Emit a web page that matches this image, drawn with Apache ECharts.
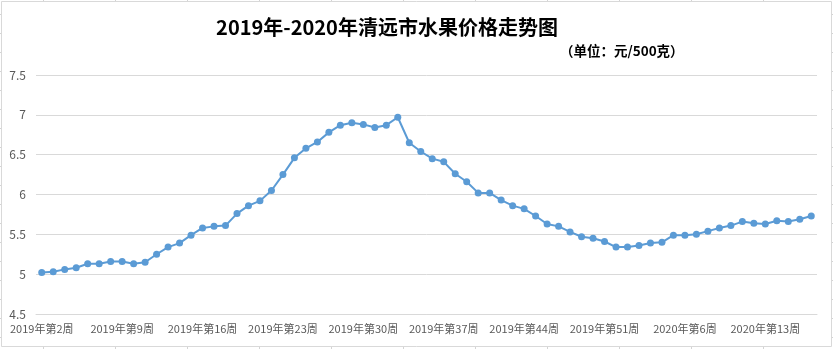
<!DOCTYPE html>
<html>
<head>
<meta charset="utf-8">
<script src="https://cdn.jsdelivr.net/npm/echarts@6/dist/echarts.min.js"></script>
<style>
  html, body { margin: 0; padding: 0; background: #ffffff; }
  #chart { width: 833px; height: 349px; }
</style>
</head>
<body>
<div id="chart"></div>
<script>
// Weekly fruit prices in Qingyuan, yuan per 500 g
const weeks = [
  '2019年第2周','2019年第3周','2019年第4周','2019年第5周','2019年第6周','2019年第7周','2019年第8周',
  '2019年第9周','2019年第10周','2019年第11周','2019年第12周','2019年第13周','2019年第14周','2019年第15周',
  '2019年第16周','2019年第17周','2019年第18周','2019年第19周','2019年第20周','2019年第21周','2019年第22周',
  '2019年第23周','2019年第24周','2019年第25周','2019年第26周','2019年第27周','2019年第28周','2019年第29周',
  '2019年第30周','2019年第31周','2019年第32周','2019年第33周','2019年第34周','2019年第35周','2019年第36周',
  '2019年第37周','2019年第38周','2019年第39周','2019年第40周','2019年第41周','2019年第42周','2019年第43周',
  '2019年第44周','2019年第45周','2019年第46周','2019年第47周','2019年第48周','2019年第49周','2019年第50周',
  '2019年第51周','2019年第52周','2020年第1周','2020年第2周','2020年第3周','2020年第4周','2020年第5周',
  '2020年第6周','2020年第7周','2020年第8周','2020年第9周','2020年第10周','2020年第11周','2020年第12周',
  '2020年第13周','2020年第14周','2020年第15周','2020年第16周','2020年第17周'
];
const prices = [
  5.02, 5.03, 5.06, 5.08, 5.13, 5.13, 5.16,
  5.16, 5.13, 5.15, 5.25, 5.34, 5.39, 5.49,
  5.58, 5.60, 5.61, 5.76, 5.86, 5.92, 6.05,
  6.25, 6.46, 6.58, 6.66, 6.78, 6.87, 6.90,
  6.88, 6.84, 6.87, 6.97, 6.65, 6.54, 6.45,
  6.41, 6.26, 6.16, 6.02, 6.02, 5.93, 5.86,
  5.82, 5.73, 5.63, 5.60, 5.53, 5.47, 5.45,
  5.41, 5.34, 5.34, 5.36, 5.39, 5.40, 5.49,
  5.49, 5.50, 5.54, 5.58, 5.61, 5.66, 5.64,
  5.63, 5.67, 5.66, 5.69, 5.73
];
const yTicks = { min: 4.5, max: 7.5, step: 0.5 };
const titleText = '2019年-2020年清远市水果价格走势图';
const unitText = '（单位：元/500克）';

const W = 833, H = 349;
const cjk = '"Noto Sans CJK SC", "Microsoft YaHei", sans-serif';

// Worksheet cell lines peeking out around the chart frame
const sheetLines = [];
const cellLine = { stroke: '#d4d4d4', lineWidth: 1 };
for (let x = 43.5; x < W; x += 72) {
  sheetLines.push({ type: 'line', silent: true, shape: { x1: x, y1: 0, x2: x, y2: 1 }, style: cellLine });
  sheetLines.push({ type: 'line', silent: true, shape: { x1: x, y1: 347, x2: x, y2: H }, style: cellLine });
}
for (let y = 14.5; y < H; y += 19) {
  sheetLines.push({ type: 'line', silent: true, shape: { x1: 0, y1: y, x2: 1, y2: y }, style: cellLine });
  sheetLines.push({ type: 'line', silent: true, shape: { x1: 832, y1: y, x2: W, y2: y }, style: cellLine });
}

const chart = echarts.init(document.getElementById('chart'), null, { renderer: 'canvas' });
chart.setOption({
  animation: false,
  backgroundColor: '#ffffff',
  title: [
    {
      text: titleText,
      left: 387, top: 17, textAlign: 'center', padding: 0,
      textStyle: { fontFamily: cjk, fontSize: 20, fontWeight: 'bold', color: '#000000' }
    },
    {
      text: unitText,
      left: 560, top: 44, padding: 0,
      textStyle: { fontFamily: cjk, fontSize: 13.5, fontWeight: 'bold', color: '#000000' }
    }
  ],
  graphic: [
    {
      type: 'rect', silent: true, z: -1,
      shape: { x: 1.5, y: 1.5, width: 830, height: 345 },
      style: { fill: '#ffffff', stroke: '#d9d9d9', lineWidth: 1 }
    },
    ...sheetLines
  ],
  grid: { left: 36, right: 16, top: 75, bottom: 35, containLabel: false },
  xAxis: {
    type: 'category',
    data: weeks,
    boundaryGap: true,
    axisLine: { show: true, lineStyle: { color: '#d9d9d9', width: 1 } },
    axisTick: { show: false },
    axisLabel: {
      interval: 6, margin: 9,
      fontFamily: cjk, fontSize: 11, color: '#595959'
    },
    splitLine: { show: false }
  },
  yAxis: {
    type: 'value',
    min: yTicks.min, max: yTicks.max, interval: yTicks.step,
    axisLine: { show: false },
    axisTick: { show: false },
    axisLabel: { margin: 10, fontFamily: cjk, fontSize: 12, color: '#595959' },
    splitLine: { lineStyle: { color: '#d9d9d9', width: 1 } }
  },
  series: [{
    type: 'line',
    data: prices,
    symbol: 'circle',
    symbolSize: 7,
    lineStyle: { color: '#5b9bd5', width: 2 },
    itemStyle: { color: '#5b9bd5' }
  }]
});
</script>
</body>
</html>
